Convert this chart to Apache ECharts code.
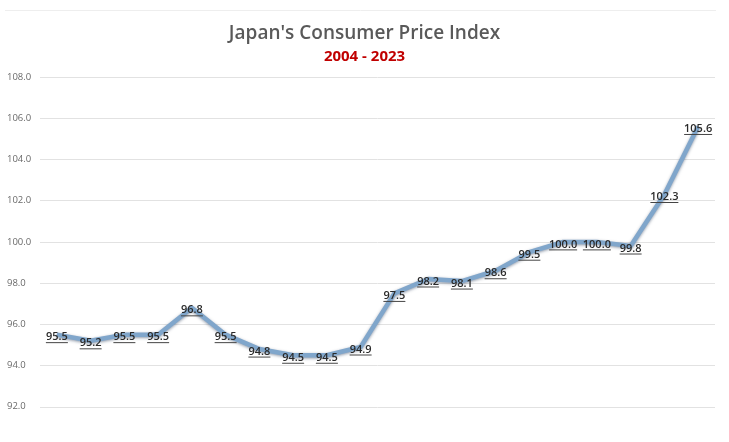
<!DOCTYPE html>
<html lang="en">
<head>
    <meta charset="utf-8">
    <title>Japan's Consumer Price Index</title>
    <script src="https://cdn.jsdelivr.net/npm/echarts@6/dist/echarts.min.js"></script>
    <style>
        html, body { margin: 0; padding: 0; background: #fff; }
        #chart { width: 729px; height: 442px; }
    </style>
</head>
<body>
    <div id="chart"></div>
    <script>
        // data
        var years = ['2004', '2005', '2006', '2007', '2008', '2009', '2010', '2011', '2012', '2013',
                     '2014', '2015', '2016', '2017', '2018', '2019', '2020', '2021', '2022', '2023'];
        var cpi = [95.5, 95.2, 95.5, 95.5, 96.8, 95.5, 94.8, 94.5, 94.5, 94.9,
                   97.5, 98.2, 98.1, 98.6, 99.5, 100.0, 100.0, 99.8, 102.3, 105.6];
        var yTicks = [90, 108, 2];   // min, max, step

        var myChart = echarts.init(document.getElementById('chart'));

        myChart.setOption({
            animation: false,
            title: [
                {
                    text: "Japan's Consumer Price Index",
                    left: 'center',
                    top: 19,
                    textStyle: { fontFamily: 'Open Sans', fontSize: 19, fontWeight: 600, color: '#595959' }
                },
                {
                    text: '2004 - 2023',
                    left: 'center',
                    top: 44,
                    textStyle: { fontFamily: 'Open Sans', fontSize: 15, fontWeight: 'bold', color: '#c00000' }
                }
            ],
            graphic: [{
                type: 'line',
                shape: { x1: 5, y1: 10.5, x2: 716, y2: 10.5 },
                style: { stroke: '#eeeeee', lineWidth: 1 }
            }],
            grid: { left: 40, width: 675, top: 77, height: 371, containLabel: false, outerBoundsMode: 'none' },
            xAxis: {
                type: 'category',
                data: years,
                boundaryGap: true,
                axisLine: { show: false },
                axisTick: { show: false },
                axisLabel: { show: false }
            },
            yAxis: {
                type: 'value',
                min: yTicks[0],
                max: yTicks[1],
                interval: yTicks[2],
                axisLine: { show: false },
                axisTick: { show: false },
                splitLine: { lineStyle: { color: '#e2e2e2', width: 1 } },
                axisLabel: {
                    margin: 10,
                    fontFamily: 'Open Sans',
                    fontSize: 9.5,
                    color: '#6a6a6a',
                    align: 'left',
                    padding: [0, 0, 0, -23],
                    formatter: function (v) { return v.toFixed(1); }
                }
            },
            series: [{
                type: 'line',
                data: cpi,
                symbol: 'circle',
                symbolSize: 1,
                itemStyle: { color: 'rgba(0,0,0,0)' },
                lineStyle: {
                    color: '#80a6cb',
                    width: 4.5,
                    shadowColor: 'rgba(40,60,90,0.5)',
                    shadowBlur: 3,
                    shadowOffsetY: 1
                },
                label: {
                    show: true,
                    position: 'inside',
                    offset: [0, 3],
                    formatter: function (p) {
                        var t = p.value.toFixed(1);
                        return '{v|' + t + '}\n{' + (t.length > 4 ? 'u5' : 'u4') + '|}';
                    },
                    rich: {
                        v: { fontFamily: 'Open Sans', fontSize: 11, fontWeight: 600, color: '#2a2a2a', lineHeight: 10 },
                        u4: { height: 1, width: 22, backgroundColor: '#444444' },
                        u5: { height: 1, width: 28, backgroundColor: '#444444' }
                    }
                }
            }]
        });
    </script>
</body>
</html>
